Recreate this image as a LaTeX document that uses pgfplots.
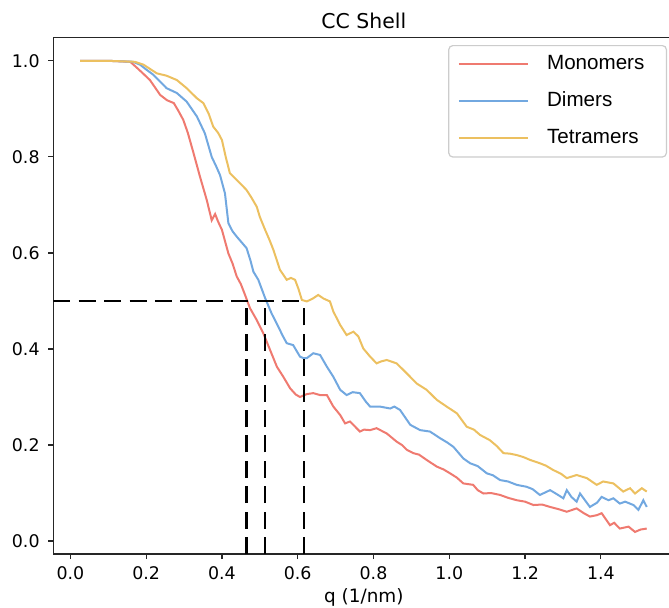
\documentclass[border=0pt]{standalone}
\usepackage{pgfplots}
\pgfplotsset{compat=1.18}
\usepackage{fontspec}
\setmainfont{DejaVu Sans}
\newfontfamily\legendfont{Liberation Sans}
\definecolor{cred}{RGB}{239,122,112}
\definecolor{cblue}{RGB}{114,168,224}
\definecolor{cyel}{RGB}{236,192,96}
\begin{document}
\begin{tikzpicture}
\begin{axis}[
  at={(0,0)}, anchor=south west,
  scale only axis, width=310.55pt, height=258.35pt,
  xmin=-0.045, xmax=1.594, ymin=-0.027, ymax=1.049,
  xtick={0,0.2,0.4,0.6,0.8,1.0,1.2,1.4},
  ytick={0,0.2,0.4,0.6,0.8,1.0},
  /pgf/number format/assume math mode=true,
  /pgf/number format/fixed, /pgf/number format/precision=1, /pgf/number format/fixed zerofill,
  tick align=outside, xtick pos=bottom, ytick pos=left,
  major tick length=2.5pt,
  every tick/.style={black!85, line width=0.6pt},
  axis line style={black!85, line width=0.7pt},
  ticklabel style={font=\fontsize{8.7}{10}\selectfont, inner sep=0pt},
  xticklabel style={anchor=base, yshift=-10pt},
  yticklabel style={anchor=east, xshift=-4.15pt},
  title={CC Shell},
  title style={font=\fontsize{10.2}{12}\selectfont, at={(0.5,1)}, anchor=base, yshift=-1.35pt, inner sep=0pt},
  xlabel={q (1/nm)},
  xlabel style={font=\fontsize{9.2}{11}\selectfont, at={(0.5,0)}, anchor=base, yshift=-24pt, inner sep=0pt},
  legend style={at={(1,1)}, anchor=north east, xshift=-3.7pt, yshift=-3.85pt,
    draw=black!20, fill=white, rounded corners=2pt, line width=0.6pt,
    font=\legendfont\fontsize{10.3}{12}\selectfont,
    inner xsep=4.5pt, inner ysep=4.6pt, row sep=9pt,
    nodes={inner sep=0pt, text height=7.5pt, text depth=2pt},
    /tikz/every odd column/.append style={column sep=9pt}},
  legend cell align=left,
  legend image code/.code={\draw[#1, line width=1.15pt] (0pt,0pt) -- (34.5pt,0pt);},
]
\addplot[cred, line width=1pt] coordinates {
(0.026,1.0) (0.1,1.0) (0.158,0.998) (0.175,0.986) (0.19,0.975) (0.21,0.96) (0.237,0.929) (0.255,0.918) (0.273,0.912) (0.285,0.896) (0.298,0.877) (0.31,0.85) (0.325,0.808) (0.342,0.759) (0.36,0.71) (0.373,0.668) (0.382,0.681) (0.39,0.665) (0.40,0.648) (0.417,0.599) (0.428,0.578) (0.439,0.551) (0.45,0.535) (0.461,0.5125) (0.474,0.485) (0.492,0.46) (0.509,0.433) (0.527,0.398) (0.545,0.363) (0.562,0.342) (0.58,0.318) (0.595,0.305) (0.606,0.30) (0.624,0.306) (0.641,0.308) (0.659,0.304) (0.677,0.304) (0.694,0.28) (0.712,0.2625) (0.725,0.245) (0.738,0.249) (0.764,0.228) (0.775,0.232) (0.791,0.231) (0.808,0.235) (0.835,0.224) (0.861,0.207) (0.875,0.2) (0.888,0.19) (0.905,0.183) (0.92,0.18) (0.94,0.169) (0.967,0.155) (0.985,0.149) (1.002,0.141) (1.02,0.132) (1.037,0.12) (1.063,0.117) (1.075,0.106) (1.09,0.099) (1.11,0.1) (1.134,0.096) (1.155,0.09) (1.178,0.085) (1.2,0.082) (1.222,0.075) (1.245,0.076) (1.266,0.071) (1.29,0.066) (1.31,0.061) (1.336,0.068) (1.355,0.058) (1.371,0.051) (1.39,0.054) (1.402,0.058) (1.424,0.033) (1.435,0.038) (1.45,0.026) (1.473,0.03) (1.49,0.019) (1.505,0.024) (1.521,0.026)
};
\addlegendentry{Monomers\hspace*{6.5pt}}
\addplot[cblue, line width=1pt] coordinates {
(0.026,1.0) (0.1,1.0) (0.165,0.998) (0.184,0.992) (0.2,0.982) (0.219,0.971) (0.254,0.943) (0.281,0.933) (0.307,0.915) (0.334,0.884) (0.355,0.849) (0.373,0.80) (0.385,0.78) (0.395,0.762) (0.408,0.724) (0.417,0.662) (0.428,0.645) (0.439,0.634) (0.452,0.622) (0.465,0.61) (0.475,0.585) (0.483,0.561) (0.496,0.544) (0.514,0.506) (0.531,0.474) (0.549,0.446) (0.56,0.428) (0.571,0.412) (0.588,0.408) (0.606,0.384) (0.615,0.381) (0.624,0.381) (0.641,0.391) (0.659,0.3875) (0.677,0.363) (0.694,0.342) (0.712,0.315) (0.729,0.304) (0.745,0.31) (0.764,0.308) (0.78,0.29) (0.791,0.28) (0.817,0.28) (0.844,0.276) (0.855,0.28) (0.870,0.273) (0.897,0.242) (0.923,0.231) (0.949,0.228) (0.976,0.214) (0.995,0.205) (1.011,0.196) (1.037,0.172) (1.055,0.162) (1.075,0.156) (1.099,0.141) (1.115,0.137) (1.134,0.127) (1.155,0.124) (1.178,0.117) (1.204,0.113) (1.22,0.108) (1.239,0.096) (1.266,0.106) (1.285,0.097) (1.301,0.089) (1.31,0.106) (1.322,0.092) (1.336,0.082) (1.345,0.099) (1.371,0.071) (1.39,0.08) (1.402,0.092) (1.42,0.085) (1.433,0.089) (1.45,0.078) (1.464,0.082) (1.486,0.075) (1.499,0.065) (1.512,0.085) (1.521,0.071)
};
\addlegendentry{Dimers}
\addplot[cyel, line width=1pt] coordinates {
(0.026,1.0) (0.1,1.0) (0.17,0.998) (0.193,0.992) (0.228,0.974) (0.254,0.969) (0.281,0.960) (0.307,0.943) (0.334,0.922) (0.351,0.912) (0.365,0.89) (0.377,0.863) (0.39,0.85) (0.40,0.835) (0.41,0.80) (0.421,0.766) (0.435,0.755) (0.448,0.745) (0.465,0.731) (0.478,0.715) (0.492,0.696) (0.50,0.675) (0.514,0.648) (0.525,0.628) (0.536,0.606) (0.553,0.565) (0.571,0.544) (0.582,0.548) (0.593,0.544) (0.602,0.525) (0.611,0.502) (0.624,0.499) (0.64,0.505) (0.654,0.5125) (0.668,0.505) (0.685,0.499) (0.694,0.478) (0.712,0.45) (0.729,0.429) (0.747,0.436) (0.76,0.426) (0.773,0.401) (0.79,0.385) (0.808,0.37) (0.82,0.374) (0.835,0.377) (0.861,0.37) (0.888,0.349) (0.914,0.328) (0.94,0.315) (0.967,0.294) (0.993,0.28) (1.02,0.266) (1.046,0.238) (1.065,0.232) (1.081,0.221) (1.107,0.21) (1.125,0.198) (1.143,0.183) (1.16,0.182) (1.178,0.179) (1.195,0.175) (1.213,0.169) (1.239,0.162) (1.255,0.157) (1.274,0.148) (1.295,0.14) (1.31,0.131) (1.336,0.1375) (1.363,0.131) (1.389,0.117) (1.406,0.124) (1.433,0.12) (1.459,0.103) (1.477,0.11) (1.49,0.099) (1.508,0.11) (1.521,0.103)
};
\addlegendentry{Tetramers}
\addplot[black, line width=1.2pt, dash pattern=on 8.5pt off 4.2pt, forget plot] coordinates {(-0.045,0.5) (0.617,0.5)};
\addplot[black, line width=1.2pt, dash pattern=on 8.5pt off 4.2pt, forget plot] coordinates {(0.465,-0.027) (0.465,0.5)};
\addplot[black, line width=1.2pt, dash pattern=on 8.5pt off 4.2pt, forget plot] coordinates {(0.514,-0.027) (0.514,0.5)};
\addplot[black, line width=1.2pt, dash pattern=on 8.5pt off 4.2pt, forget plot] coordinates {(0.617,-0.027) (0.617,0.5)};
\end{axis}
\pgfresetboundingbox
\useasboundingbox (-26.65pt,-26.5pt) rectangle (307.85pt,277pt);
\end{tikzpicture}
\end{document}
